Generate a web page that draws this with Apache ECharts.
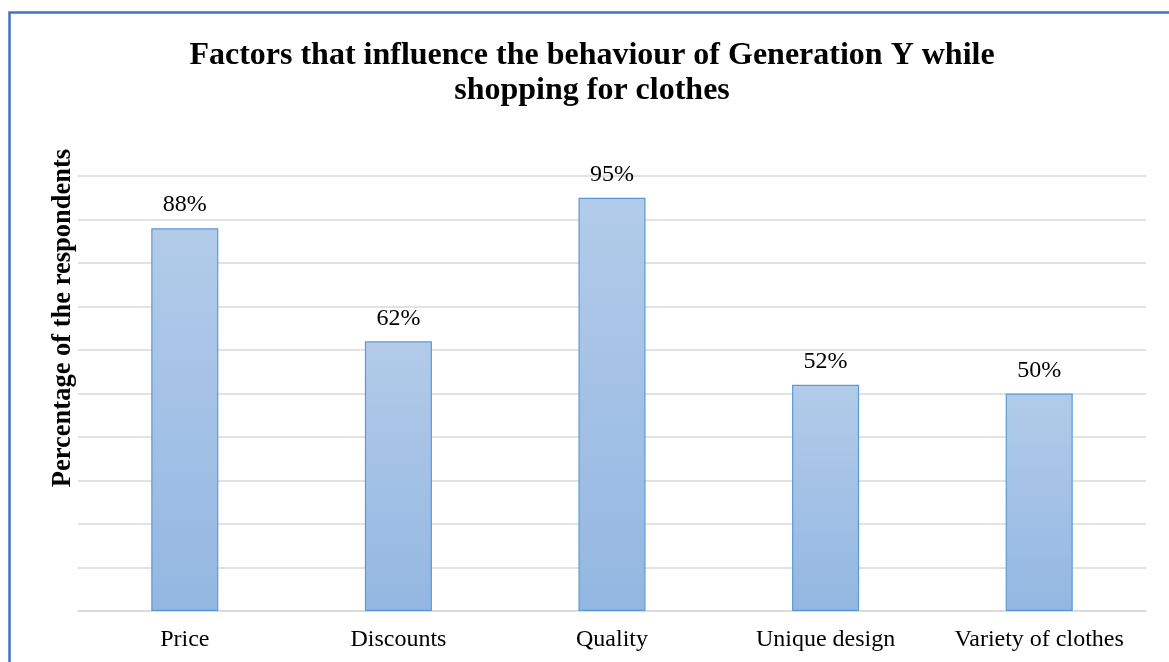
<!DOCTYPE html>
<html>
<head>
<meta charset="utf-8">
<style>
  html, body { margin: 0; padding: 0; background: #fff; }
  #chart { width: 1169px; height: 662px; }
</style>
<script src="https://cdn.jsdelivr.net/npm/echarts@6/dist/echarts.min.js"></script>
</head>
<body>
<div id="chart"></div>
<script>
// Shopping factors and share of respondents (%)
const categories = ['Price', 'Discounts', 'Quality', 'Unique design', 'Variety of clothes'];
const percentages = [88, 62, 95, 52, 50];

const serif = '"Liberation Serif", "Times New Roman", serif';
const chart = echarts.init(document.getElementById('chart'));

chart.setOption({
  backgroundColor: '#ffffff',
  animation: false,
  title: {
    text: 'Factors that influence the behaviour of Generation Y while\nshopping for clothes',
    left: 587,
    textAlign: 'center',
    top: 33,
    textStyle: {
      fontFamily: serif,
      fontWeight: 'bold',
      fontSize: 32,
      lineHeight: 35,
      color: '#000'
    }
  },
  graphic: [
    {
      type: 'polyline',
      shape: { points: [[9.5, 700], [9.5, 12.5], [1200, 12.5]] },
      style: { stroke: '#4472c4', lineWidth: 2.5, fill: null }
    },
    {
      type: 'text',
      x: 63,
      y: 318,
      rotation: Math.PI / 2,
      style: {
        text: 'Percentage of the respondents',
        fontFamily: serif,
        fontWeight: 'bold',
        fontSize: 26.5,
        fill: '#000',
        align: 'center',
        verticalAlign: 'middle'
      }
    }
  ],
  grid: { left: 78, right: 23, top: 176, bottom: 51 },
  xAxis: {
    type: 'category',
    data: categories,
    axisLine: { show: true, lineStyle: { color: '#d9d9d9', width: 1.5 } },
    axisTick: { show: false },
    axisLabel: {
      interval: 0,
      fontFamily: serif,
      fontSize: 24,
      color: '#000',
      margin: 17
    }
  },
  yAxis: {
    type: 'value',
    min: 0,
    max: 100,
    interval: 10,
    axisLine: { show: false },
    axisTick: { show: false },
    axisLabel: { show: false },
    splitLine: { lineStyle: { color: '#d9d9d9', width: 1.5 } }
  },
  series: [{
    type: 'bar',
    data: percentages,
    barWidth: '31.4%',
    itemStyle: {
      color: new echarts.graphic.LinearGradient(0, 0, 0, 1, [
        { offset: 0, color: '#b2cbe9' },
        { offset: 1, color: '#93b7e2' }
      ]),
      borderColor: '#5b9bd5',
      borderWidth: 1.2
    },
    label: {
      show: true,
      position: 'top',
      distance: 11,
      formatter: '{c}%',
      fontFamily: serif,
      fontSize: 24,
      color: '#000'
    }
  }]
});
</script>
</body>
</html>
